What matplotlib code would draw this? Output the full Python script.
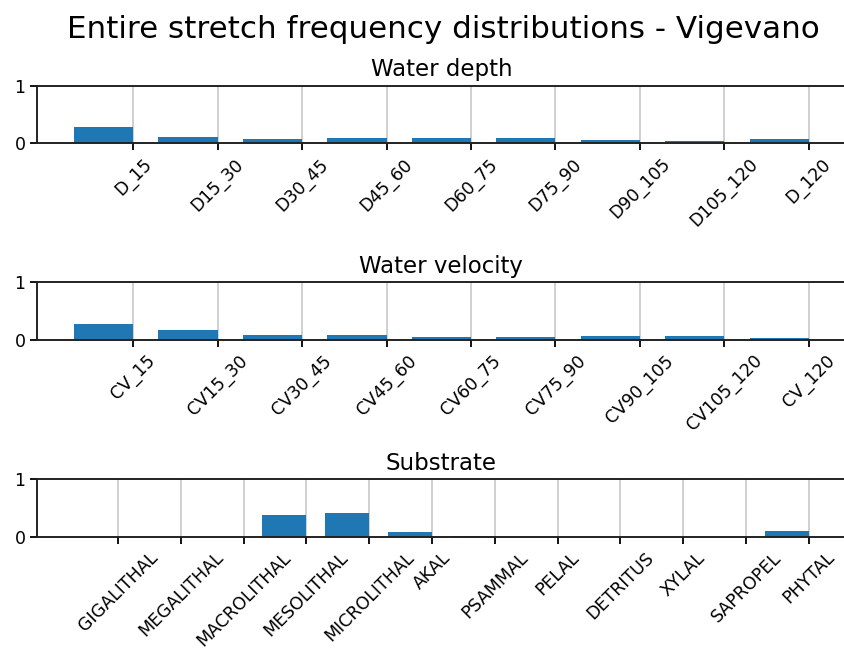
import matplotlib
matplotlib.use("Agg")
import matplotlib.pyplot as plt
import numpy as np

# Frequency of each class along the whole stretch
depth_labels = ["D_15", "D15_30", "D30_45", "D45_60", "D60_75", "D75_90",
                "D90_105", "D105_120", "D_120"]
depth_values = [0.28, 0.105, 0.075, 0.093, 0.087, 0.087, 0.05, 0.035, 0.07]

velocity_labels = ["CV_15", "CV15_30", "CV30_45", "CV45_60", "CV60_75", "CV75_90",
                   "CV90_105", "CV105_120", "CV_120"]
velocity_values = [0.27, 0.17, 0.09, 0.09, 0.06, 0.05, 0.07, 0.07, 0.035]

substrate_labels = ["GIGALITHAL", "MEGALITHAL", "MACROLITHAL", "MESOLITHAL",
                    "MICROLITHAL", "AKAL", "PSAMMAL", "PELAL", "DETRITUS",
                    "XYLAL", "SAPROPEL", "PHYTAL"]
substrate_values = [0.0, 0.0, 0.0, 0.38, 0.41, 0.075, 0.01, 0.0, 0.0, 0.0, 0.0, 0.1]

panels = [
    ("Water depth", depth_labels, depth_values),
    ("Water velocity", velocity_labels, velocity_values),
    ("Substrate", substrate_labels, substrate_values),
]

W, H = 844, 648
fig = plt.figure(figsize=(W / 100, H / 100), dpi=100)
fig.suptitle("Entire stretch frequency distributions - Vigevano",
             fontsize=22.3, x=443 / W, y=1 - 30 / H, va="center")

left_px, right_px = 37.3, 845.5
tops_px = [86, 282.3, 479.3]
bottoms_px = [143.3, 340, 536.7]

for (title, labels, values), top, bottom in zip(panels, tops_px, bottoms_px):
    ax = fig.add_axes([left_px / W, 1 - bottom / H,
                       (right_px - left_px) / W, (bottom - top) / H])
    x = np.arange(len(labels))
    ax.bar(x, values, width=-0.7, align="edge", color="#1f77b4", zorder=2)
    ax.set_xticks(x)
    ax.set_xticklabels(labels, rotation=45, fontsize=12.5)
    ax.set_ylim(0, 1)
    ax.set_yticks([0, 1])
    ax.tick_params(axis="y", labelsize=12.5)
    ax.tick_params(width=1.3, length=5)
    ax.grid(axis="x", color="#c8c8c8", linewidth=1.2, zorder=0)
    ax.set_axisbelow(True)
    for s in ax.spines.values():
        s.set_linewidth(1.4)
        s.set_color("#222222")
    ax.set_title(title, fontsize=16.5, pad=7)

fig.savefig("out.png", dpi=100)
